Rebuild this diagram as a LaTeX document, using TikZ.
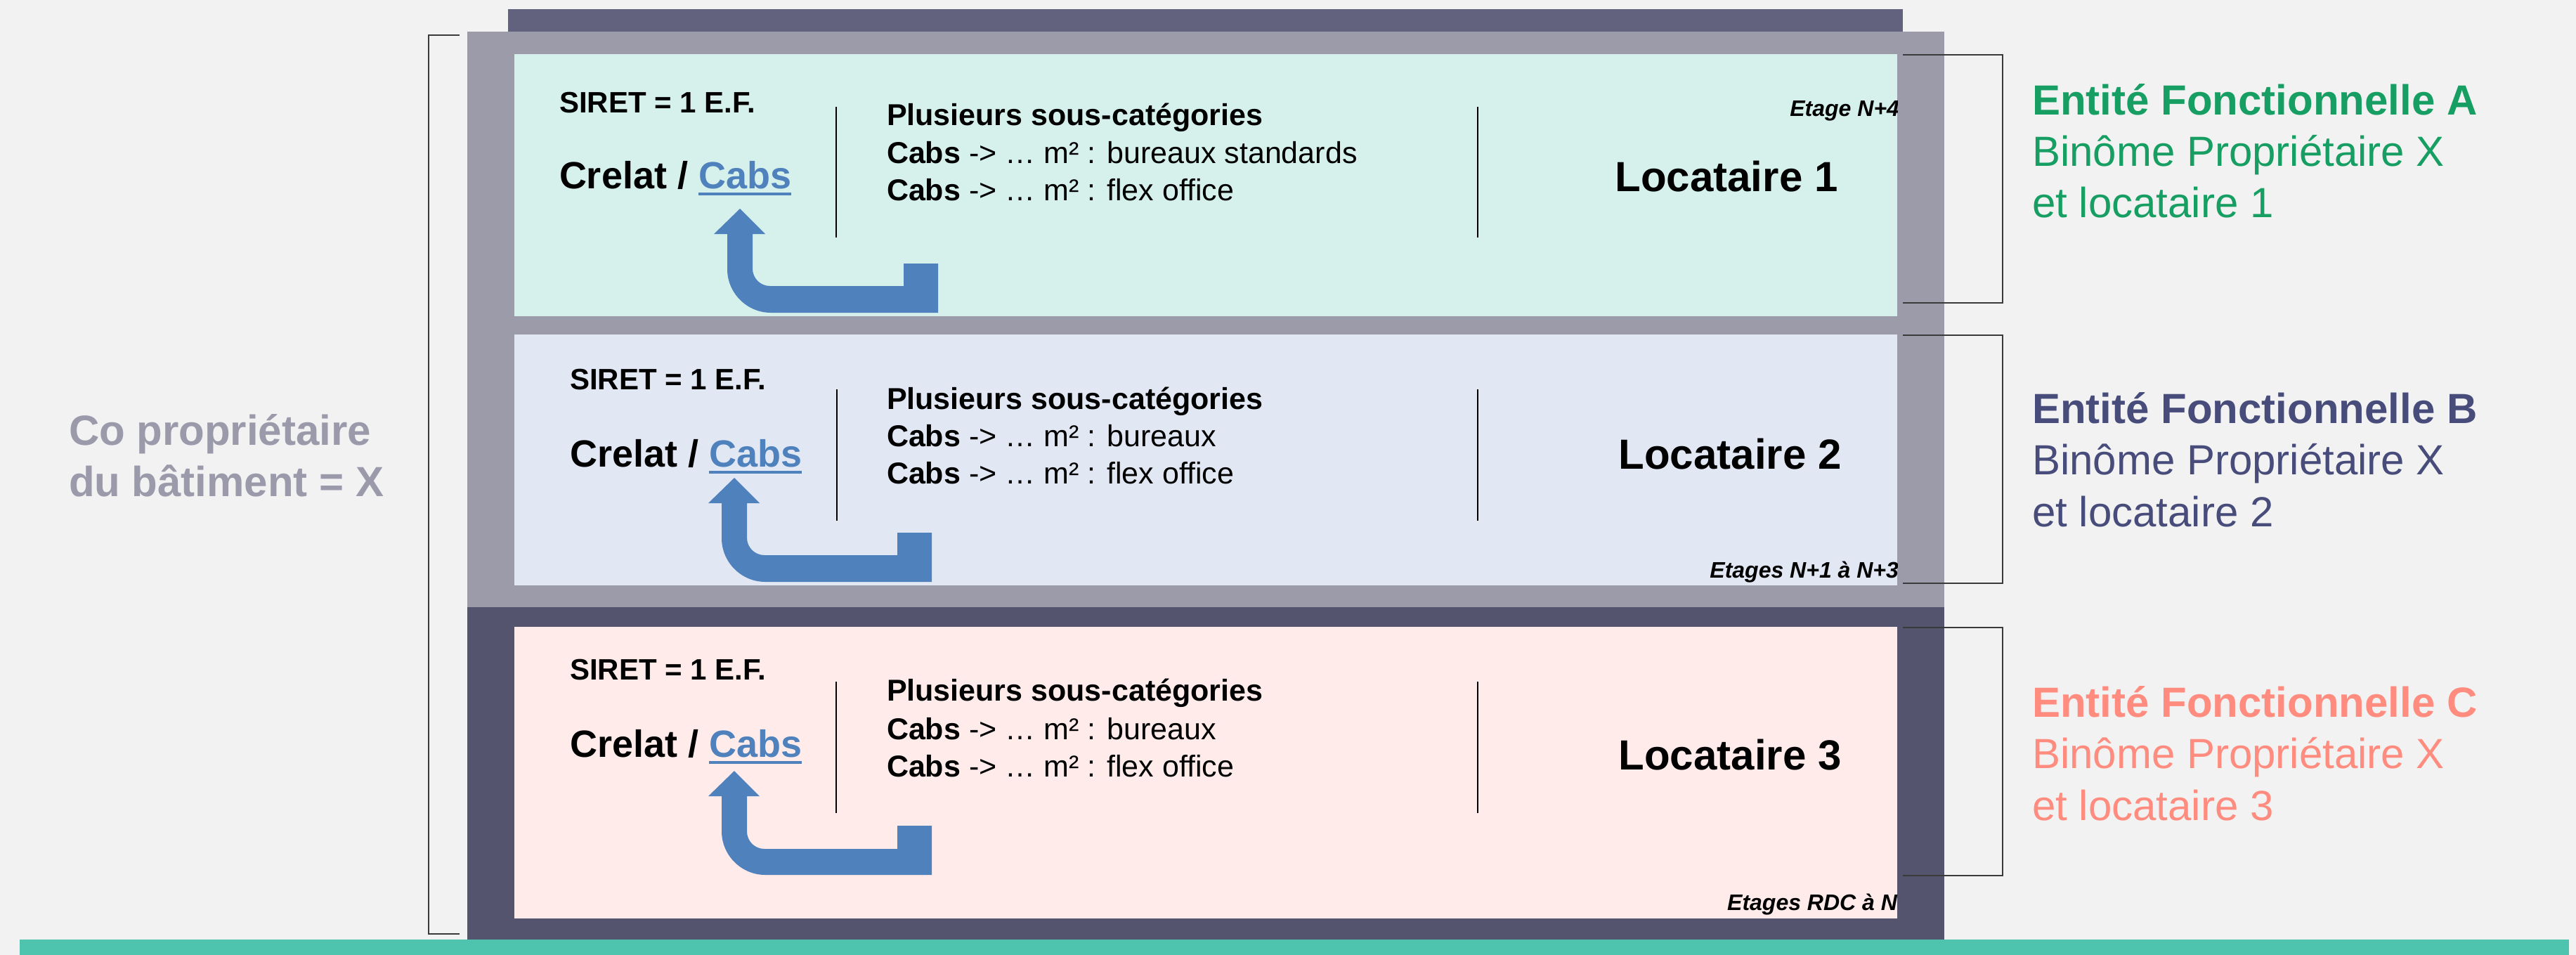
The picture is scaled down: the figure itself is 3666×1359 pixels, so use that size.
\documentclass[tikz,border=0pt]{standalone}
\usepackage{fontspec}
\setmainfont{Liberation Sans}
\definecolor{bgcol}{HTML}{F2F2F2}
\definecolor{topbar}{HTML}{62627E}
\definecolor{greyouter}{HTML}{9C9BAA}
\definecolor{darkouter}{HTML}{54546F}
\definecolor{mint}{HTML}{D6F1EC}
\definecolor{lightblue}{HTML}{E1E8F4}
\definecolor{pinkfloor}{HTML}{FFECEA}
\definecolor{arrowblue}{HTML}{4F81BD}
\definecolor{tealbar}{HTML}{4EC4AF}
\definecolor{greenA}{HTML}{179E62}
\definecolor{navyB}{HTML}{474C7A}
\definecolor{salmonC}{HTML}{FF8C7E}
\definecolor{cograey}{HTML}{9B9AAA}
\definecolor{bracketcol}{HTML}{3A3A3A}
\newcommand{\blockarrow}[7]{% cx ty bt bb sl sr st
  \fill[arrowblue] (#1,#2) -- ++(36,36) -- ++(-18,0) -- (#1+18,#3-25)
    .. controls (#1+18,#3-11) and (#1+29,#3) .. (#1+43,#3)
    -- (#5,#3) -- (#5,#7) -- (#6,#7) -- (#6,#4) -- (#1+44,#4)
    .. controls (#1+10,#4) and (#1-18,#4-28) .. (#1-18,#4-62)
    -- (#1-18,#2+36) -- (#1-37,#2+36) -- cycle;}
\begin{document}
\begin{tikzpicture}[
  x=0.2pt, y=-0.2pt,
  txt/.style={inner sep=0pt, outer sep=0pt, anchor=base west},
  siret/.style={txt, font=\fontsize{8.4}{10}\selectfont\bfseries},
  crelat/.style={txt, font=\fontsize{10.8}{13}\selectfont\bfseries},
  cabslink/.style={txt, text=arrowblue, font=\fontsize{10.8}{13}\selectfont\bfseries},
  subcat/.style={txt, font=\fontsize{8.6}{10}\selectfont},
  loc/.style={inner sep=0pt, anchor=base, font=\fontsize{12}{14}\selectfont\bfseries},
  etage/.style={inner sep=0pt, anchor=base east, font=\fontsize{6.4}{8}\selectfont\bfseries\itshape},
  enttitle/.style={txt, font=\fontsize{12}{14}\selectfont\bfseries},
  entline/.style={txt, font=\fontsize{12}{14}\selectfont},
  divider/.style={draw=black, line width=0.3pt},
  brack/.style={draw=bracketcol, line width=0.4pt},
  underl/.style={draw=arrowblue, line width=0.7pt}
]
\useasboundingbox (0,0) rectangle (3666,1359);
\fill[bgcol] (0,0) rectangle (3666,1359);

% building
\fill[topbar] (723,13) rectangle (2708,45);
\fill[greyouter] (665,45) rectangle (2767,864);
\fill[darkouter] (665,864) rectangle (2767,1337);
\fill[mint] (732,77) rectangle (2700,450);
\fill[lightblue] (732,476) rectangle (2700,833);
\fill[pinkfloor] (732,892) rectangle (2700,1307);
\fill[tealbar] (28,1337) rectangle (3656,1359);

% left bracket
\draw[brack] (654,50) -- (610,50) -- (610,1329) -- (654,1329);
\node[txt, text=cograey, font=\fontsize{12}{14}\selectfont\bfseries] (co1) at (98,633) {Co propriétaire};
\node[txt, text=cograey, font=\fontsize{12}{14}\selectfont\bfseries] (co2) at (98,706) {du bâtiment = X};

% right brackets
\draw[brack] (2708,78) -- (2850,78) -- (2850,431) -- (2708,431);
\draw[brack] (2708,477) -- (2850,477) -- (2850,830) -- (2708,830);
\draw[brack] (2708,893) -- (2850,893) -- (2850,1246) -- (2708,1246);

% ---------- floor 1 ----------
\node[siret] (s1) at (796,160) {SIRET = 1 E.F.};
\node[crelat] (c1) at (796,268) {Crelat /\ \mbox{}};
\node[cabslink] (k1) at (c1.base east) {Cabs};
\draw[underl] ([yshift=-1.6pt]k1.base west) -- ([yshift=-1.6pt]k1.base east);
\draw[divider] (1190,152) -- (1190,338);
\draw[divider] (2103,152) -- (2103,338);
\node[subcat, font=\fontsize{8.6}{10}\selectfont\bfseries] (p1) at (1262,178) {Plusieurs sous-catégories};
\node[subcat] (a1) at (1262,232) {\textbf{Cabs} -> … m² : bureaux standards};
\node[subcat] (b1) at (1262,285) {\textbf{Cabs} -> … m² : flex office};
\node[loc] (l1) at (2457,272) {Locataire 1};
\begin{scope}
  \clip (732,77) rectangle (2700,450);
  \node[etage] (e1) at (2704,165) {Etage N+4};
\end{scope}
\blockarrow{1053}{297}{407}{445}{1286}{1335}{375}

% ---------- floor 2 ----------
\node[siret] (s2) at (811,554) {SIRET = 1 E.F.};
\node[crelat] (c2) at (811,664) {Crelat /\ \mbox{}};
\node[cabslink] (k2) at (c2.base east) {Cabs};
\draw[underl] ([yshift=-1.6pt]k2.base west) -- ([yshift=-1.6pt]k2.base east);
\draw[divider] (1191,554) -- (1191,741);
\draw[divider] (2103,554) -- (2103,741);
\node[subcat, font=\fontsize{8.6}{10}\selectfont\bfseries] (p2) at (1262,582) {Plusieurs sous-catégories};
\node[subcat] (a2) at (1262,635) {\textbf{Cabs} -> … m² : bureaux};
\node[subcat] (b2) at (1262,688) {\textbf{Cabs} -> … m² : flex office};
\node[loc] (l2) at (2462,667) {Locataire 2};
\begin{scope}
  \clip (732,476) rectangle (2700,833);
  \node[etage] (e2) at (2703,822) {Etages N+1 à N+3};
\end{scope}
\blockarrow{1045}{680}{790}{828}{1277}{1326}{758}

% ---------- floor 3 ----------
\node[siret] (s3) at (811,967) {SIRET = 1 E.F.};
\node[crelat] (c3) at (811,1077) {Crelat /\ \mbox{}};
\node[cabslink] (k3) at (c3.base east) {Cabs};
\draw[underl] ([yshift=-1.6pt]k3.base west) -- ([yshift=-1.6pt]k3.base east);
\draw[divider] (1190,970) -- (1190,1157);
\draw[divider] (2103,970) -- (2103,1157);
\node[subcat, font=\fontsize{8.6}{10}\selectfont\bfseries] (p3) at (1262,997) {Plusieurs sous-catégories};
\node[subcat] (a3) at (1262,1052) {\textbf{Cabs} -> … m² : bureaux};
\node[subcat] (b3) at (1262,1105) {\textbf{Cabs} -> … m² : flex office};
\node[loc] (l3) at (2462,1095) {Locataire 3};
\begin{scope}
  \clip (732,892) rectangle (2700,1307);
  \node[etage] (e3) at (2701,1295) {Etages RDC à N};
\end{scope}
\blockarrow{1045}{1097}{1208}{1245}{1277}{1326}{1175}

% ---------- entity labels ----------
\node[enttitle, text=greenA] (ea1) at (2892,163) {Entité Fonctionnelle A};
\node[entline, text=greenA] (ea2) at (2892,236) {Binôme Propriétaire X};
\node[entline, text=greenA] (ea3) at (2892,309) {et locataire 1};

\node[enttitle, text=navyB] (eb1) at (2892,602) {Entité Fonctionnelle B};
\node[entline, text=navyB] (eb2) at (2892,675) {Binôme Propriétaire X};
\node[entline, text=navyB] (eb3) at (2892,749) {et locataire 2};

\node[enttitle, text=salmonC] (ec1) at (2892,1020) {Entité Fonctionnelle C};
\node[entline, text=salmonC] (ec2) at (2892,1093) {Binôme Propriétaire X};
\node[entline, text=salmonC] (ec3) at (2892,1167) {et locataire 3};
\end{tikzpicture}
\end{document}
